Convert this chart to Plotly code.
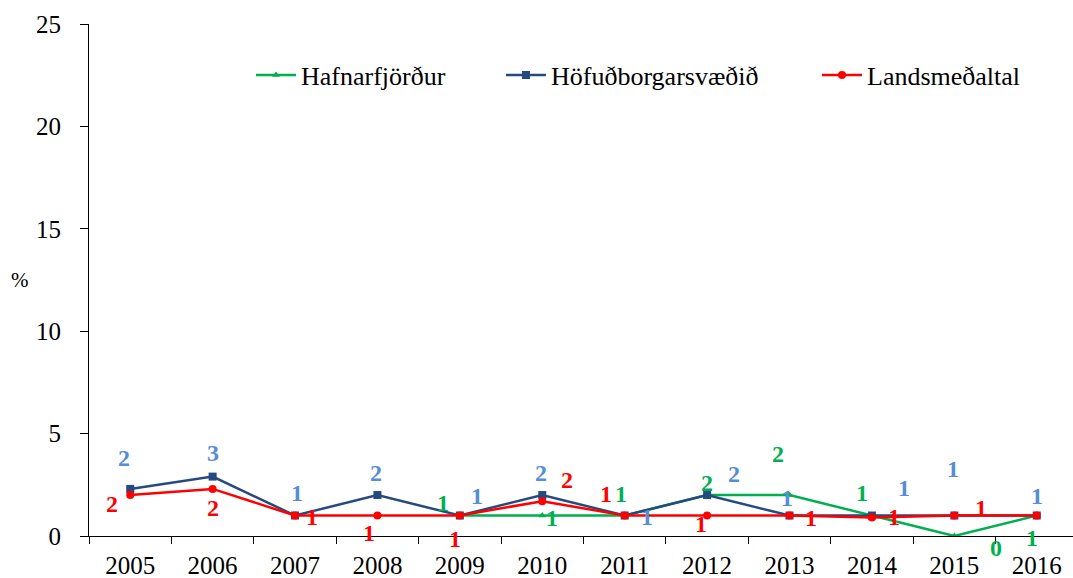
import plotly.graph_objects as go

years = ["2005", "2006", "2007", "2008", "2009", "2010", "2011", "2012", "2013", "2014", "2015", "2016"]
hafnarfjordur = [None, None, None, None, 1.0, 1.0, 1.0, 2.0, 2.0, 1.0, 0.0, 1.0]
hofudborg = [2.3, 2.9, 1.0, 2.0, 1.0, 2.0, 1.0, 2.0, 1.0, 1.0, 1.0, 1.0]
landsmedaltal = [2.0, 2.3, 1.0, 1.0, 1.0, 1.7, 1.0, 1.0, 1.0, 0.9, 1.0, 1.0]
y_ticks = [0, 5, 10, 15, 20, 25]

# label pixel offsets (dx, dy downwards), styling only
off_h = [None, None, None, None, (-17, -13), (10, 2), (-4, -22), (0, -12), (-12, -41), (-10, -23), (42, 12), (-5, 22)]
off_f = [(-6, -31), (0, -24), (2, -23), (-1, -22), (17, -20), (-1, -22), (22, 1), (27, -21), (-3, -18), (32, -28), (-1, -47), (0, -20)]
off_l = [(-18, 9), (0, 19), (17, 1), (-8, 17), (-5, 23), (25, -21), (-19, -22), (-6, 8), (21, 2), (22, -1), (27, -8), None]

GREEN = "#00B050"
NAVY = "#254A7F"
RED = "#FF0000"
LBLUE = "#558ED5"
FONT = "Times New Roman, Liberation Serif, serif"

L, T, W, H = 89, 24, 984, 512

fig = go.Figure()
fig.add_trace(go.Scatter(x=years, y=hafnarfjordur, name="Hafnarfjörður", mode="lines+markers", legend="legend",
                         line=dict(color=GREEN, width=2.5), marker=dict(symbol="triangle-up", size=7, color=GREEN)))
fig.add_trace(go.Scatter(x=years, y=hofudborg, name="Höfuðborgarsvæðið", mode="lines+markers", legend="legend2",
                         line=dict(color=NAVY, width=2.5), marker=dict(symbol="square", size=8, color=NAVY)))
fig.add_trace(go.Scatter(x=years, y=landsmedaltal, name="Landsmeðaltal", mode="lines+markers", legend="legend3",
                         line=dict(color=RED, width=2.5), marker=dict(symbol="circle", size=8, color=RED)))

annotations = []
for vals, offs, col in [(hafnarfjordur, off_h, GREEN), (hofudborg, off_f, LBLUE), (landsmedaltal, off_l, RED)]:
    for i, (v, o) in enumerate(zip(vals, offs)):
        if v is None or o is None:
            continue
        annotations.append(dict(x=i, y=v, xref="x", yref="y", text="<b>%d</b>" % round(v),
                                showarrow=False, xshift=o[0], yshift=-o[1],
                                xanchor="center", yanchor="middle",
                                font=dict(family=FONT, size=24, color=col)))
annotations.append(dict(x=(20 - L) / W, y=1 - (280 - T) / H, xref="paper", yref="paper", text="%", showarrow=False,
                        xanchor="center", yanchor="middle", font=dict(family=FONT, size=21, color="black")))


def leg(px):
    return dict(orientation="h", x=(px - L) / W, y=1 - (75 - T) / H, xanchor="left", yanchor="middle",
                font=dict(family=FONT, size=26, color="black"), bgcolor="rgba(0,0,0,0)", itemwidth=40)


fig.update_layout(
    width=1073, height=578,
    margin=dict(l=L, r=1073 - L - W, t=T, b=578 - T - H),
    paper_bgcolor="white", plot_bgcolor="white",
    font=dict(family=FONT, size=22, color="black"),
    showlegend=True,
    annotations=annotations,
    legend=leg(251), legend2=leg(501), legend3=leg(817),
    xaxis=dict(type="category", range=[-0.5, 11.44], tickson="boundaries", ticks="outside", ticklen=7,
               tickcolor="black", showline=True, linecolor="black", linewidth=1, showgrid=False,
               zeroline=False, tickfont=dict(family=FONT, size=25, color="black"), ticklabelstandoff=7,
               automargin=False),
    yaxis=dict(range=[0, 25], tickvals=y_ticks, ticks="outside", ticklen=8, tickcolor="black",
               showline=True, linecolor="black", linewidth=1, showgrid=False, zeroline=False,
               tickfont=dict(family=FONT, size=25, color="black"), ticklabelstandoff=14,
               automargin=False),
)

fig.write_html("out.html", config={"displayModeBar": False},
               post_script="document.body.style.margin='0';document.body.style.padding='0';")
